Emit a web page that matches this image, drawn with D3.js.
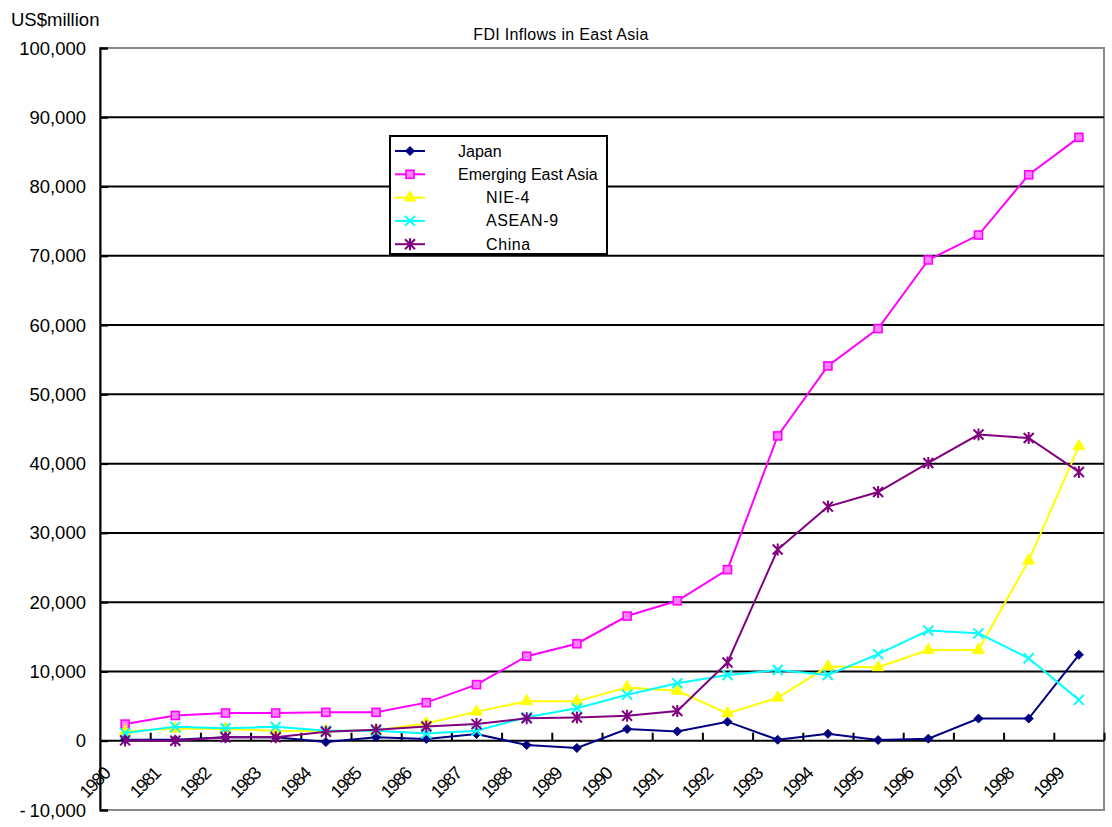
<!DOCTYPE html>
<html>
<head>
<meta charset="utf-8">
<script src="https://cdn.jsdelivr.net/npm/d3@7"></script>
<style>
  body { margin: 0; background: #fff; }
  text { font-family: "Liberation Sans", Arial, sans-serif; fill: #000; }
</style>
</head>
<body>
<svg id="chart" width="1112" height="827"></svg>
<script>
// categories
var years = ["1980","1981","1982","1983","1984","1985","1986","1987","1988","1989",
             "1990","1991","1992","1993","1994","1995","1996","1997","1998","1999"];

// series values, US$ million
var japan    = [150, 150, 500, 500, -200, 500, 250, 970, -620, -1050,
                1690, 1350, 2750, 140, 1000, 100, 300, 3200, 3200, 12400];
var emerging = [2400, 3650, 4000, 4000, 4100, 4100, 5500, 8100, 12200, 14000,
                18000, 20200, 24700, 44000, 54100, 59500, 69400, 73000, 81700, 87100];
var nie4     = [1350, 1750, 1700, 1450, 1400, 1500, 2500, 4200, 5700, 5700,
                7700, 7200, 3950, 6200, 10700, 10600, 13100, 13100, 26000, 42500];
var asean9   = [1100, 2000, 1800, 2000, 1450, 1450, 1050, 1450, 3400, 4700,
                6650, 8300, 9500, 10200, 9500, 12500, 15900, 15500, 11900, 5900];
var china    = [50, 0, 500, 500, 1300, 1600, 2050, 2400, 3250, 3350,
                3600, 4300, 11300, 27600, 33800, 35900, 40100, 44200, 43700, 38800];

var seriesNames = ["Japan", "Emerging East Asia", "NIE-4", "ASEAN-9", "China"];
var yTicks = [-10000, 0, 10000, 20000, 30000, 40000, 50000, 60000, 70000, 80000, 90000, 100000];

var series = [
  { name: seriesNames[0], values: japan,    color: "#000080", marker: "diamond", indent: 0 },
  { name: seriesNames[1], values: emerging, color: "#ff00ff", marker: "square",  indent: 0 },
  { name: seriesNames[2], values: nie4,     color: "#ffff00", marker: "triangle", indent: 28 },
  { name: seriesNames[3], values: asean9,   color: "#00ffff", marker: "x",       indent: 28 },
  { name: seriesNames[4], values: china,    color: "#800080", marker: "star",    indent: 28 }
];

var svg = d3.select("#chart");
var plotL = 100, plotR = 1104, plotT = 48, plotB = 810;

var x = d3.scaleLinear().domain([0, years.length]).range([plotL, plotR]);
var y = d3.scaleLinear().domain([-10000, 100000]).range([plotB, plotT]);

// plot border
svg.append("rect")
    .attr("x", plotL).attr("y", plotT)
    .attr("width", plotR - plotL).attr("height", plotB - plotT)
    .attr("fill", "none").attr("stroke", "#888").attr("stroke-width", 2);

// gridlines
svg.append("g").selectAll("line")
    .data(yTicks.filter(function(d) { return d > -10000 && d < 100000; }))
    .enter().append("line")
    .attr("x1", plotL).attr("x2", plotR)
    .attr("y1", function(d) { return y(d); })
    .attr("y2", function(d) { return y(d); })
    .attr("stroke", "#000").attr("stroke-width", 2);

// y axis
var fmt = d3.format(",");
var yAxis = d3.axisRight(y)
    .tickValues(yTicks)
    .tickSize(8)
    .tickFormat("");
var yg = svg.append("g").attr("transform", "translate(" + plotL + ",0)").call(yAxis);
yg.selectAll("path, line").attr("stroke", "#000").attr("stroke-width", 2);

svg.append("g").selectAll("text")
    .data(yTicks)
    .enter().append("text")
    .attr("x", 86)
    .attr("y", function(d) { return y(d) + 6.5; })
    .attr("text-anchor", "end")
    .style("font-size", "18.5px")
    .text(function(d) { return d < 0 ? "-\u2009" + fmt(-d) : fmt(d); });

// category ticks on the zero line
var xAxis = d3.axisTop(x)
    .tickValues(d3.range(1, years.length + 1))
    .tickSize(8)
    .tickFormat("");
var xg = svg.append("g").attr("transform", "translate(0," + y(0) + ")").call(xAxis);
xg.select(".domain").remove();
xg.selectAll("line").attr("stroke", "#000").attr("stroke-width", 2);

// category labels
svg.append("g").selectAll("text")
    .data(years)
    .enter().append("text")
    .attr("transform", function(d, i) {
      return "translate(" + (x(i) + 11) + ",775) rotate(-45)";
    })
    .attr("text-anchor", "end")
    .style("font-size", "18px")
    .style("letter-spacing", "-1.5px")
    .text(function(d) { return d; });

// titles
svg.append("text").attr("x", 11).attr("y", 26)
    .style("font-size", "18.5px").text("US$million");
svg.append("text").attr("x", 561).attr("y", 40)
    .attr("text-anchor", "middle")
    .style("font-size", "16px")
    .style("letter-spacing", "0.3px")
    .text("FDI Inflows in East Asia");

// markers
function drawMarker(g, type, color) {
  if (type === "diamond") {
    g.append("path").attr("d", "M0,-4.5L4.5,0L0,4.5L-4.5,0Z")
      .attr("fill", color).attr("stroke", color);
  } else if (type === "square") {
    g.append("rect").attr("x", -4).attr("y", -4).attr("width", 8).attr("height", 8)
      .attr("fill", "#ff80ff").attr("stroke", color).attr("stroke-width", 1.6);
  } else if (type === "triangle") {
    g.append("path").attr("d", d3.symbol().type(d3.symbolTriangle).size(60))
      .attr("fill", color).attr("stroke", color);
  } else if (type === "x") {
    g.append("path").attr("d", "M-5,-5L5,5M-5,5L5,-5")
      .attr("stroke", color).attr("stroke-width", 2).attr("fill", "none");
  } else if (type === "star") {
    g.append("path").attr("d", "M-5,-5L5,5M-5,5L5,-5M0,-6L0,6")
      .attr("stroke", color).attr("stroke-width", 2).attr("fill", "none");
  }
}

var line = d3.line()
    .x(function(d, i) { return x(i + 0.5); })
    .y(function(d) { return y(d); });

series.forEach(function(s) {
  var g = svg.append("g");
  g.append("path")
    .attr("d", line(s.values))
    .attr("fill", "none")
    .attr("stroke", s.color)
    .attr("stroke-width", 2);
  g.selectAll(".mk")
    .data(s.values)
    .enter().append("g")
    .attr("class", "mk")
    .attr("transform", function(d, i) { return "translate(" + x(i + 0.5) + "," + y(d) + ")"; })
    .each(function() { drawMarker(d3.select(this), s.marker, s.color); });
});

// legend
var lg = svg.append("g");
lg.append("rect").attr("x", 390).attr("y", 136).attr("width", 217).attr("height", 118)
    .attr("fill", "#fff").attr("stroke", "#000").attr("stroke-width", 2);
series.forEach(function(s, i) {
  var ry = 151 + i * 23.3;
  lg.append("line").attr("x1", 395).attr("x2", 425).attr("y1", ry).attr("y2", ry)
    .attr("stroke", s.color).attr("stroke-width", 2);
  var m = lg.append("g").attr("transform", "translate(410," + ry + ")");
  drawMarker(m, s.marker, s.color);
  lg.append("text").attr("x", 458 + s.indent).attr("y", ry + 5.5)
    .style("font-size", "16px")
    .style("letter-spacing", s.indent ? "0.6px" : "0px")
    .text(s.name);
});
</script>
</body>
</html>
